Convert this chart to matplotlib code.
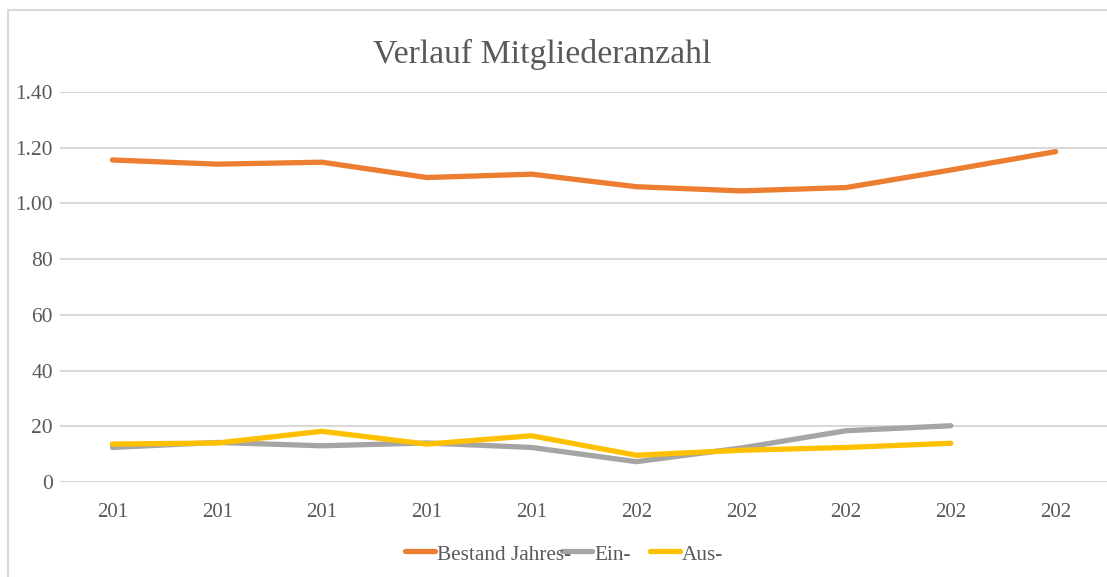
import matplotlib.pyplot as plt
import numpy as np
from matplotlib.lines import Line2D
from matplotlib.patches import Rectangle

# values
years = ["201", "201", "201", "201", "201", "202", "202", "202", "202", "202"]
bestand = [1156, 1141, 1148, 1093, 1105, 1060, 1045, 1057, 1120, 1186]
eintritte = [124, 142, 130, 140, 124, 73, 122, 184, 202]
austritte = [136, 140, 182, 136, 166, 96, 114, 124, 139]
series_names = ["Bestand Jahres-", "Ein-", "Aus-"]
colors = ["#ED7D31", "#A5A5A5", "#FFC000"]
ytick_vals = [0, 200, 400, 600, 800, 1000, 1200, 1400]
ytick_labels = ["0", "20", "40", "60", "80", "1.00", "1.20", "1.40"]

txt = "#595959"
W, H = 1107, 577
plt.rcParams['font.family'] = ['Liberation Serif', 'DejaVu Serif']

fig = plt.figure(figsize=(W / 100, H / 100), dpi=100)
ax = fig.add_axes([60 / W, 95 / H, 1048 / W, 390 / H])

x = np.arange(len(years))
for vals, col, name in zip([bestand, eintritte, austritte], colors, series_names):
    ax.plot(x[:len(vals)], vals, color=col, lw=3.8, solid_capstyle="round", label=name)

ax.set_xlim(-0.5, len(years) - 0.5)
ax.set_ylim(0, 1400)
ax.set_yticks(ytick_vals)
ax.set_yticklabels(ytick_labels)
ax.set_xticks(x)
ax.set_xticklabels(years)
ax.tick_params(axis="y", length=0, pad=5, labelsize=15.5, labelcolor=txt)
ax.tick_params(axis="x", length=0, pad=15, labelsize=15, labelcolor=txt)
ax.grid(axis="y", color="#D9D9D9", lw=1.5)
ax.set_axisbelow(True)
for s in ax.spines.values():
    s.set_visible(False)

fig.text(542 / W, 1 - 54 / H, "Verlauf Mitgliederanzahl", ha="center", va="center",
         fontsize=24.3, color=txt)

# legend laid out by hand, entries overlap a little like in the original
leg_y = 1 - 551 / H
text_y = 1 - 555 / H
handle_x = [405, 562, 650]
for hx, col, name in zip(handle_x, colors, series_names):
    fig.add_artist(Line2D([hx / W, (hx + 30) / W], [leg_y, leg_y], color=col, lw=3.8,
                          solid_capstyle="round", transform=fig.transFigure))
    fig.text((hx + 32) / W, text_y, name, ha="left", va="center", fontsize=15.3, color=txt)

# outer chart frame (only left and top edges visible in the crop)
fig.patches.append(Rectangle((8 / W, -0.1), 1.2, 1 - 10 / H + 0.1, transform=fig.transFigure,
                             fill=False, edgecolor="#D9D9D9", lw=1.5, zorder=-1))

fig.savefig("out.png", dpi=100)
